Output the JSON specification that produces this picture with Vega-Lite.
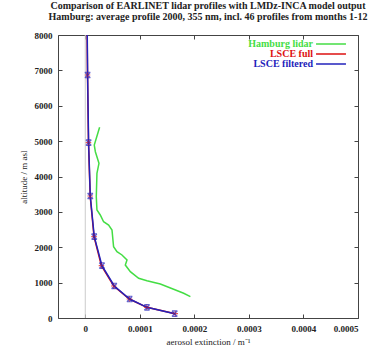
{
  "$schema": "https://vega.github.io/schema/vega-lite/v6.json",
  "width": 300,
  "height": 283,
  "autosize": {"type": "none"},
  "padding": {"left": 58, "top": 35, "right": 15, "bottom": 27},
  "title": {
    "text": ["Comparison of EARLINET lidar profiles with LMDz-INCA model output", "Hamburg: average profile 2000, 355 nm, incl. 46 profiles from months 1-12"],
    "font": "Liberation Serif",
    "fontSize": 10,
    "fontWeight": "bold",
    "lineHeight": 11,
    "anchor": "middle",
    "offset": 9,
    "color": "#222"
  },
  "config": {
    "view": {"stroke": "#444", "strokeWidth": 1},
    "font": "Liberation Serif",
    "axis": {"domain": false, "grid": false, "minExtent": 0, "labelFont": "Liberation Serif", "labelFontWeight": "bold", "labelFontSize": 9, "labelColor": "#222", "titleFont": "Liberation Serif", "titleFontWeight": "normal", "titleFontSize": 9, "titleColor": "#222", "tickColor": "#444"}
  },
  "data": {"values": [
    {"series": "Hamburg lidar", "x": 0.0000263, "alt": 5391},
    {"series": "Hamburg lidar", "x": 0.0000165, "alt": 4890},
    {"series": "Hamburg lidar", "x": 0.0000185, "alt": 4700},
    {"series": "Hamburg lidar", "x": 0.0000251, "alt": 4373},
    {"series": "Hamburg lidar", "x": 0.0000214, "alt": 4090},
    {"series": "Hamburg lidar", "x": 0.0000202, "alt": 3430},
    {"series": "Hamburg lidar", "x": 0.0000214, "alt": 3053},
    {"series": "Hamburg lidar", "x": 0.0000275, "alt": 2912},
    {"series": "Hamburg lidar", "x": 0.0000336, "alt": 2722},
    {"series": "Hamburg lidar", "x": 0.0000428, "alt": 2629},
    {"series": "Hamburg lidar", "x": 0.0000490, "alt": 2488},
    {"series": "Hamburg lidar", "x": 0.0000519, "alt": 2016},
    {"series": "Hamburg lidar", "x": 0.0000581, "alt": 1874},
    {"series": "Hamburg lidar", "x": 0.0000673, "alt": 1781},
    {"series": "Hamburg lidar", "x": 0.0000765, "alt": 1640},
    {"series": "Hamburg lidar", "x": 0.0000734, "alt": 1498},
    {"series": "Hamburg lidar", "x": 0.0000826, "alt": 1309},
    {"series": "Hamburg lidar", "x": 0.0000979, "alt": 1122},
    {"series": "Hamburg lidar", "x": 0.0001131, "alt": 1055},
    {"series": "Hamburg lidar", "x": 0.0001376, "alt": 961},
    {"series": "Hamburg lidar", "x": 0.0001620, "alt": 811},
    {"series": "Hamburg lidar", "x": 0.0001804, "alt": 698},
    {"series": "Hamburg lidar", "x": 0.0001927, "alt": 603},
    {"series": "LSCE full", "x": 0.0000028, "alt": 9000},
    {"series": "LSCE full", "x": 0.0000041, "alt": 6869},
    {"series": "LSCE full", "x": 0.0000059, "alt": 4956},
    {"series": "LSCE full", "x": 0.0000090, "alt": 3449},
    {"series": "LSCE full", "x": 0.0000160, "alt": 2298},
    {"series": "LSCE full", "x": 0.0000296, "alt": 1479},
    {"series": "LSCE full", "x": 0.0000522, "alt": 905},
    {"series": "LSCE full", "x": 0.0000808, "alt": 537},
    {"series": "LSCE full", "x": 0.0001128, "alt": 302},
    {"series": "LSCE full", "x": 0.0001650, "alt": 122},
    {"series": "LSCE filtered", "x": 0.0000030, "alt": 9000},
    {"series": "LSCE filtered", "x": 0.0000043, "alt": 6869},
    {"series": "LSCE filtered", "x": 0.0000061, "alt": 4956},
    {"series": "LSCE filtered", "x": 0.0000092, "alt": 3449},
    {"series": "LSCE filtered", "x": 0.0000165, "alt": 2298},
    {"series": "LSCE filtered", "x": 0.0000306, "alt": 1479},
    {"series": "LSCE filtered", "x": 0.0000532, "alt": 905},
    {"series": "LSCE filtered", "x": 0.0000813, "alt": 537},
    {"series": "LSCE filtered", "x": 0.0001131, "alt": 302},
    {"series": "LSCE filtered", "x": 0.0001639, "alt": 122}
  ]},
  "layer": [
    {
      "data": {"values": [{"z": 0}]},
      "mark": {"type": "rule", "color": "#cccccc", "strokeWidth": 1},
      "encoding": {
        "x": {"field": "z", "type": "quantitative", "scale": {"domain": [-0.00005, 0.0005], "nice": false, "zero": false},
          "axis": {"orient": "bottom", "values": [0, 0.0001, 0.0002, 0.0003, 0.0004, 0.0005], "labelExpr": "datum.value == 0 ? '0' : format(datum.value, '.4f')", "tickSize": -4, "labelPadding": 10, "title": "aerosol extinction / m⁻¹", "titlePadding": 4}}
      }
    },
    {
      "mark": {"type": "line", "strokeWidth": 1.5, "clip": true},
      "encoding": {
        "x": {"field": "x", "type": "quantitative", "scale": {"domain": [-0.00005, 0.0005], "nice": false, "zero": false},
          "axis": {"orient": "top", "values": [0, 0.0001, 0.0002, 0.0003, 0.0004, 0.0005], "labels": false, "tickSize": -4, "title": null}},
        "y": {"field": "alt", "type": "quantitative", "scale": {"domain": [0, 8000], "nice": false},
          "axis": {"orient": "left", "values": [0, 1000, 2000, 3000, 4000, 5000, 6000, 7000, 8000], "format": "d", "tickSize": -4, "labelPadding": 10, "title": "altitude / m asl", "titlePadding": 6}},
        "order": {"field": "alt", "type": "quantitative"},
        "color": {"field": "series", "type": "nominal",
          "scale": {"domain": ["Hamburg lidar", "LSCE full", "LSCE filtered"], "range": ["#44dd44", "#dd1111", "#2222bb"]},
          "legend": {"title": null, "orient": "none", "legendX": 268, "legendY": 4, "symbolType": "M-4,0L4,0", "symbolSize": 56, "symbolStrokeWidth": 1.5, "labelAlign": "right", "labelOffset": -23, "labelFont": "Liberation Serif", "labelFontWeight": "bold", "labelFontSize": 10, "rowPadding": -1, "symbolOffset": 0, "padding": 0,
            "encode": {"labels": {"update": {"fill": {"scale": "color", "field": "value"}}}}}
        }
      }
    },
    {
      "transform": [{"filter": "datum.series == 'LSCE full'"}],
      "mark": {"type": "point", "shape": "M-1,0L1,0M0,-1L0,1", "filled": false, "size": 30, "color": "#dd1111", "strokeWidth": 1.2, "clip": true},
      "encoding": {
        "x": {"field": "x", "type": "quantitative", "axis": null},
        "y": {"field": "alt", "type": "quantitative", "axis": null}
      }
    },
    {
      "transform": [{"filter": "datum.series == 'LSCE filtered'"}],
      "mark": {"type": "point", "shape": "M-1,-1L1,1M-1,1L1,-1M-1,-1L1,-1M-1,1L1,1", "filled": false, "size": 30, "color": "#2222bb", "strokeWidth": 1.2, "clip": true},
      "encoding": {
        "x": {"field": "x", "type": "quantitative", "axis": null},
        "y": {"field": "alt", "type": "quantitative", "axis": null}
      }
    },
    {
      "data": {"values": [{"z": 0}]},
      "mark": {"type": "rule", "opacity": 0},
      "encoding": {
        "y": {"field": "z", "type": "quantitative", "scale": {"domain": [0, 8000], "nice": false},
          "axis": {"orient": "right", "values": [0, 1000, 2000, 3000, 4000, 5000, 6000, 7000, 8000], "labels": false, "tickSize": -4, "title": null}}
      }
    }
  ],
  "resolve": {"axis": {"x": "independent", "y": "independent"}}
}
